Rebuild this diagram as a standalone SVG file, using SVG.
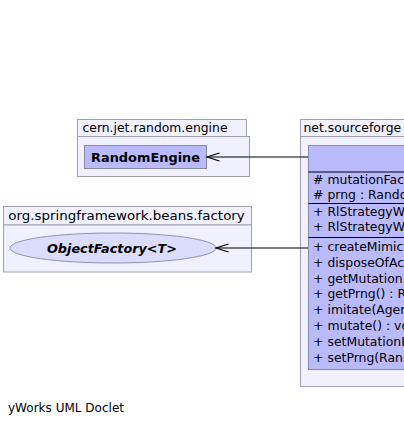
<svg xmlns="http://www.w3.org/2000/svg" width="404" height="425" viewBox="0 0 404 425">
<style>
text{font-family:"DejaVu Sans","Noto Sans",sans-serif;font-size:12.4px;fill:#000}
.pkg{fill:#f0f0ff;stroke:#a0a0b0;stroke-width:1}
.cls{fill:#babaff;stroke:#8888aa;stroke-width:1}
.ifc{fill:#dcdcff;stroke:#9090b0;stroke-width:1}
.sep{stroke:#000;stroke-width:1}
.b{font-weight:bold;font-size:13px}
.bi{font-weight:bold;font-style:italic;font-size:13px}
.edge{fill:none;stroke:#000;stroke-width:1.2}
</style>
<defs>
<marker id="open" markerWidth="16" markerHeight="12" refX="12.5" refY="5" orient="auto" markerUnits="userSpaceOnUse">
<path d="M0,1 L12.5,5 L0,9" fill="none" stroke="#000" stroke-width="1.2"/>
</marker>
</defs>
<rect x="0" y="0" width="404" height="425" fill="#fff"/>
<g id="pkg-cern">
<rect class="pkg" x="77.5" y="119.5" width="169" height="17"/>
<rect class="pkg" x="77.5" y="136.5" width="172" height="40"/>
<text x="82.5" y="132" textLength="145" lengthAdjust="spacingAndGlyphs">cern.jet.random.engine</text>
</g>
<g id="RandomEngine">
<rect class="cls" x="84.5" y="145.5" width="122" height="23"/>
<text class="b" x="145.5" y="162" text-anchor="middle" textLength="109" lengthAdjust="spacingAndGlyphs">RandomEngine</text>
</g>
<g id="pkg-spring">
<rect class="pkg" x="3.5" y="206.5" width="248" height="18.5"/>
<rect class="pkg" x="3.5" y="225" width="248" height="47"/>
<text x="8.3" y="220" textLength="236.5" lengthAdjust="spacingAndGlyphs">org.springframework.beans.factory</text>
</g>
<g id="ObjectFactory">
<ellipse class="ifc" cx="113" cy="248" rx="103" ry="15"/>
<text class="bi" x="112" y="253" text-anchor="middle" textLength="130" lengthAdjust="spacingAndGlyphs">ObjectFactory&lt;T&gt;</text>
</g>
<g id="pkg-net">
<rect class="pkg" x="300.5" y="119.5" width="130" height="17"/>
<rect class="pkg" x="300.5" y="136.5" width="130" height="250"/>
<text x="303.5" y="132">net.sourceforge</text>
</g>
<g id="RlStrategyWithImitation">
<rect class="cls" x="308.5" y="145.5" width="120" height="224"/>
<line class="sep" x1="308.5" y1="172" x2="428" y2="172"/>
<text y="184"><tspan x="313">#</tspan><tspan x="327.5">mutationFac</tspan></text>
<text y="199"><tspan x="313">#</tspan><tspan x="327.5">prng : Rando</tspan></text>
<line class="sep" x1="308.5" y1="203.5" x2="428" y2="203.5"/>
<text y="215.5"><tspan x="313">+</tspan><tspan x="327.5">RlStrategyWi</tspan></text>
<text y="231"><tspan x="313">+</tspan><tspan x="327.5">RlStrategyWi</tspan></text>
<line class="sep" x1="308.5" y1="237.5" x2="428" y2="237.5"/>
<text y="251"><tspan x="313">+</tspan><tspan x="327.5">createMimicS</tspan></text>
<text y="266.8"><tspan x="313">+</tspan><tspan x="327.5">disposeOfAc</tspan></text>
<text y="282.6"><tspan x="313">+</tspan><tspan x="327.5">getMutation</tspan></text>
<text y="298.4"><tspan x="313">+</tspan><tspan x="327.5">getPrng() : R</tspan></text>
<text y="314.2"><tspan x="313">+</tspan><tspan x="327.5">imitate(Agen</tspan></text>
<text y="330"><tspan x="313">+</tspan><tspan x="327.5">mutate() : vo</tspan></text>
<text y="345.8"><tspan x="313">+</tspan><tspan x="327.5">setMutationF</tspan></text>
<text y="361.6"><tspan x="313">+</tspan><tspan x="327.5">setPrng(Ran</tspan></text>
</g>
<g id="connectors">
<line class="edge" x1="308" y1="157" x2="207" y2="157" marker-end="url(#open)"/>
<line class="edge" x1="308" y1="248" x2="216" y2="248" marker-end="url(#open)"/>
</g>
<text x="8" y="412" textLength="116" lengthAdjust="spacingAndGlyphs">yWorks UML Doclet</text>
</svg>
